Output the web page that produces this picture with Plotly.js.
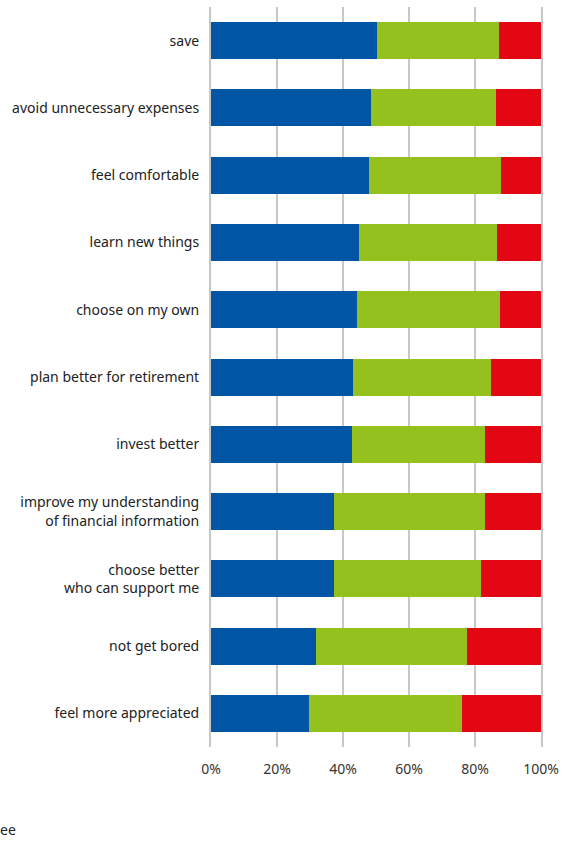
<!DOCTYPE html>
<html>
<head>
<meta charset="utf-8">
<script src="https://cdn.plot.ly/plotly-3.0.1.min.js"></script>
<style>html,body{margin:0;padding:0;background:#fff;}#chart{width:568px;height:843px;}</style>
</head>
<body>
<div id="chart"></div>
<script>
const categories = [
  "save",
  "avoid unnecessary expenses",
  "feel comfortable",
  "learn new things",
  "choose on my own",
  "plan better for retirement",
  "invest better",
  "improve my understanding<br>of financial information",
  "choose better<br>who can support me",
  "not get bored",
  "feel more appreciated"
];
const seriesBlue  = [50.3, 48.5, 48.0, 44.8, 44.2, 42.9, 42.7, 37.3, 37.3, 31.8, 29.7];
const seriesGreen = [37.0, 38.0, 39.9, 41.9, 43.4, 41.8, 40.2, 45.6, 44.4, 45.8, 46.4];
const seriesRed   = [12.7, 13.5, 12.1, 13.3, 12.4, 15.3, 17.1, 17.1, 18.3, 22.4, 23.9];
const tickVals = [0, 20, 40, 60, 80, 100];
const tickText = ["0%", "20%", "40%", "60%", "80%", "100%"];

const mk = (vals, color) => ({
  type: 'bar', orientation: 'h', x: vals, y: categories,
  marker: {color: color, line: {width: 0}}, hoverinfo: 'x+y', showlegend: false
});
const data = [mk(seriesBlue, '#0055a4'), mk(seriesGreen, '#95c11f'), mk(seriesRed, '#e30613')];

const layout = {
  width: 568, height: 843,
  margin: {l: 211, r: 27, t: 7, b: 96},
  barmode: 'stack', bargap: 0.45,
  paper_bgcolor: '#fff', plot_bgcolor: '#fff',
  font: {family: 'Noto Sans, Open Sans, sans-serif', size: 14, color: '#333'},
  xaxis: {
    range: [0, 100], tickvals: tickVals, ticktext: tickText,
    showgrid: true, gridcolor: '#c8c8c8', gridwidth: 2,
    zeroline: false, showline: false, ticks: '', ticklabelstandoff: 12,
    tickfont: {size: 14, color: '#333'}, fixedrange: true
  },
  yaxis: {
    autorange: 'reversed', ticks: '', showgrid: false, zeroline: false,
    showline: true, mirror: true, linecolor: '#c8c8c8', linewidth: 2,
    tickfont: {size: 14, color: '#222'}, ticklabelstandoff: 7, fixedrange: true
  },
  annotations: [{
    text: 'ee', xref: 'paper', yref: 'paper', x: -0.645, y: -0.112,
    xanchor: 'left', yanchor: 'middle', showarrow: false,
    font: {size: 14, color: '#222'}
  }]
};
Plotly.newPlot('chart', data, layout, {displayModeBar: false, staticPlot: true});
</script>
</body>
</html>
